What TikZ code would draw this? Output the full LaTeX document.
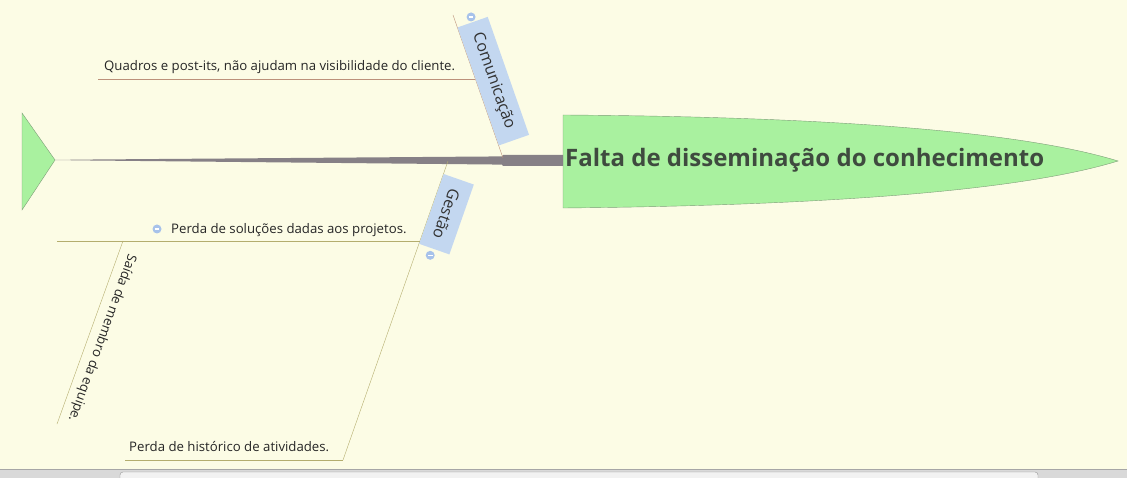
\documentclass[tikz,border=0pt]{standalone}
\usepackage{fontspec}
\setmainfont{Open Sans}
\definecolor{paper}{HTML}{FCFCE5}
\definecolor{fishgreen}{HTML}{A9F19F}
\definecolor{fishedge}{HTML}{7E9E78}
\definecolor{spine}{HTML}{868086}
\definecolor{tagblue}{HTML}{C3D7F0}
\definecolor{foldblue}{HTML}{A7C2EA}
\definecolor{rust}{HTML}{BC917A}
\definecolor{olive}{HTML}{B4AD6E}
\definecolor{ink}{HTML}{3F4B3F}

\begin{document}
\begin{tikzpicture}[x=1pt,y=-1pt,
  tag/.style={fill=tagblue,rotate=#1,inner sep=0,minimum height=32,
    font=\fontsize{16}{16}\selectfont,text=black!80},
  cause/.style={inner sep=0,font=\fontsize{13.2}{15}\selectfont,text=black!85},
  fold/.style={circle,inner sep=0,minimum size=9,fill=foldblue,
    path picture={\draw[white,line width=1.2pt]
      ([xshift=-2.4pt]path picture bounding box.center) --
      ([xshift=2.4pt]path picture bounding box.center);}}]
  \useasboundingbox[fill=paper] (0,0) rectangle (1127,478);
  \begin{scope}
    \clip (0,0) rectangle (1127,478);
    \fill[black!15] (0,469) rectangle (1127,478);
    \draw[black!35] (0,469) -- (1127,469);
    \draw[black!40,fill=black!5,rounded corners=3] (120,472) rectangle (1038,490);
  \end{scope}

  \draw[fishedge,fill=fishgreen] (22,113) -- (55,160) coordinate (tail) -- (22,210) -- cycle;
  \draw[fishedge,fill=fishgreen] (563,115) coordinate (headT)
    .. controls (880,117) and (1040,137) .. (1118,161) coordinate (tip)
    .. controls (1040,185) and (880,205) .. (563,208) coordinate (headB) -- cycle;
  \fill[spine] (tail) -- (80,159.6) -- (502,156.4) -- (503,155) -- (563,155)
    -- (563,166) -- (503,166) -- (502,164.6) -- (80,160.4) -- cycle;
  \node[anchor=west,inner sep=0,text=ink,font=\fontsize{24}{24}\selectfont\bfseries]
    (effect) at (565,160) {Falta de disseminação do conhecimento};

  \draw[rust] (453,15) coordinate (com0) -- (503,158) coordinate (com1)
    coordinate[pos=0.5] (comM);
  \draw[rust] (98,79) coordinate (q0) -- (475,79) coordinate (q1);
  \node[tag=-70.7,minimum width=125,anchor=south] (comTag) at (comM) {Comunicação};
  \node[fold] (comFold) at ([shift={(-1.5,-5)}]comTag.west) {};
  \node[cause,anchor=base west] (quadros) at (104,71)
    {Quadros e post-its, não ajudam na visibilidade do cliente.};

  \draw[olive] (448,161) coordinate (ges0) -- (343,460) coordinate (ges1)
    coordinate[pos=0.16] (gesM);
  \node[tag=-109.3,minimum width=74,anchor=south] (gesTag) at (gesM) {Gestão};
  \node[fold] (gesFold) at ([shift={(-4,6)}]gesTag.east) {};

  \draw[olive] (57,241) coordinate (ps0) -- (420,241) coordinate (ps1);
  \node[cause,anchor=base west] (perdaSol) at (171,233.5)
    {Perda de soluções dadas aos projetos.};
  \node[fold] (solFold) at (157,229) {};

  \draw[olive] (123,241) coordinate (sa0) -- (57,424) coordinate (sa1);
  \node[cause,rotate=-109.8] (saida) at (102,338) {Saída de membro da equipe.};

  \draw[olive] (125,460) coordinate (ph0) -- (ges1);
  \node[cause,anchor=base west] (perdaHist) at (129,451.5)
    {Perda de histórico de atividades.};
\end{tikzpicture}
\end{document}
